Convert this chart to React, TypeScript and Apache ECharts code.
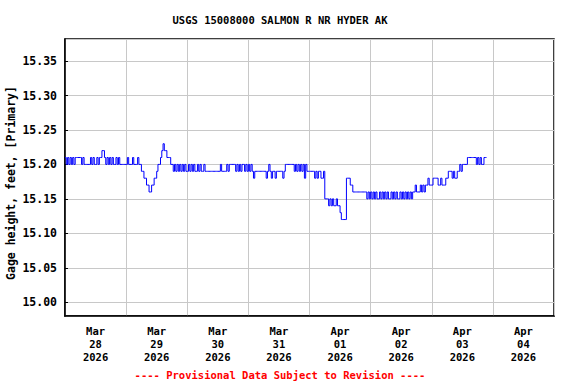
import React, { useEffect, useRef } from "react";
import * as echarts from "echarts";

const TITLE = "USGS 15008000 SALMON R NR HYDER AK";
const Y_NAME = "Gage height, feet, [Primary]";
const FOOTER = "---- Provisional Data Subject to Revision ----";

const dayLabels = [
  "Mar\n28\n2026",
  "Mar\n29\n2026",
  "Mar\n30\n2026",
  "Mar\n31\n2026",
  "Apr\n01\n2026",
  "Apr\n02\n2026",
  "Apr\n03\n2026",
  "Apr\n04\n2026",
];

const START = Date.UTC(2026, 2, 28);
const DAY_MS = 86400000;
const STEP_MS = 30 * 60000;

// Gage height (ft), 30-minute readings starting Mar 28 00:00
const mar28 = [
  15.21, 15.2, 15.21, 15.2, 15.21, 15.2, 15.21, 15.2, 15.21, 15.21, 15.21, 15.21,
  15.21, 15.2, 15.21, 15.2, 15.2, 15.2, 15.2, 15.2, 15.21, 15.2, 15.21, 15.2,
  15.2, 15.21, 15.2, 15.21, 15.21, 15.22, 15.22, 15.21, 15.2, 15.21, 15.2, 15.21,
  15.2, 15.21, 15.2, 15.2, 15.21, 15.2, 15.21, 15.2, 15.2, 15.2, 15.2, 15.2,
];
const mar29 = [
  15.2, 15.21, 15.2, 15.2, 15.2, 15.21, 15.2, 15.2, 15.2, 15.21, 15.2, 15.2,
  15.19, 15.19, 15.18, 15.18, 15.17, 15.17, 15.16, 15.16, 15.17, 15.17, 15.18, 15.18,
  15.19, 15.2, 15.2, 15.21, 15.22, 15.23, 15.22, 15.22, 15.21, 15.21, 15.21, 15.2,
  15.2, 15.19, 15.2, 15.19, 15.2, 15.19, 15.2, 15.19, 15.2, 15.19, 15.2, 15.19,
];
const mar30 = [
  15.19, 15.2, 15.19, 15.2, 15.19, 15.2, 15.19, 15.19, 15.2, 15.19, 15.2, 15.19,
  15.19, 15.2, 15.19, 15.19, 15.19, 15.19, 15.19, 15.19, 15.19, 15.19, 15.19, 15.19,
  15.19, 15.19, 15.2, 15.19, 15.19, 15.19, 15.19, 15.2, 15.19, 15.2, 15.2, 15.2,
  15.2, 15.2, 15.19, 15.2, 15.19, 15.2, 15.19, 15.2, 15.2, 15.19, 15.2, 15.19,
];
const mar31 = [
  15.2, 15.19, 15.2, 15.19, 15.18, 15.19, 15.19, 15.19, 15.19, 15.19, 15.19, 15.19,
  15.19, 15.19, 15.18, 15.19, 15.2, 15.19, 15.18, 15.19, 15.19, 15.18, 15.19, 15.19,
  15.19, 15.19, 15.19, 15.18, 15.19, 15.2, 15.2, 15.2, 15.2, 15.2, 15.2, 15.2,
  15.19, 15.2, 15.19, 15.2, 15.19, 15.2, 15.19, 15.2, 15.18, 15.2, 15.19, 15.19,
];
const apr01 = [
  15.19, 15.19, 15.19, 15.19, 15.18, 15.19, 15.18, 15.19, 15.19, 15.18, 15.18, 15.19,
  15.15, 15.15, 15.15, 15.14, 15.15, 15.14, 15.15, 15.14, 15.14, 15.15, 15.14, 15.14,
  15.13, 15.12, 15.12, 15.12, 15.12, 15.18, 15.18, 15.18, 15.17, 15.17, 15.16, 15.16,
  15.16, 15.16, 15.16, 15.16, 15.16, 15.16, 15.16, 15.16, 15.16, 15.15, 15.16, 15.15,
];
const apr02 = [
  15.16, 15.15, 15.16, 15.15, 15.16, 15.15, 15.15, 15.16, 15.15, 15.16, 15.15, 15.16,
  15.15, 15.16, 15.15, 15.15, 15.16, 15.15, 15.16, 15.15, 15.16, 15.15, 15.15, 15.16,
  15.15, 15.16, 15.15, 15.16, 15.15, 15.16, 15.15, 15.16, 15.15, 15.16, 15.16, 15.17,
  15.16, 15.16, 15.16, 15.17, 15.16, 15.17, 15.16, 15.17, 15.17, 15.18, 15.17, 15.17,
];
const apr03 = [
  15.17, 15.18, 15.18, 15.18, 15.18, 15.17, 15.17, 15.18, 15.17, 15.17, 15.17, 15.18,
  15.18, 15.19, 15.19, 15.19, 15.18, 15.19, 15.18, 15.18, 15.19, 15.19, 15.2, 15.19,
  15.2, 15.2, 15.2, 15.2, 15.21, 15.21, 15.21, 15.21, 15.21, 15.21, 15.21, 15.2,
  15.21, 15.2, 15.21, 15.2, 15.2, 15.21, 15.21, 15.21,
];

const FONT = "'DejaVu Sans Mono', 'Liberation Mono', monospace";

export default function App() {
  const ref = useRef<HTMLDivElement>(null);

  useEffect(() => {
    if (!ref.current) return;
    const chart = echarts.init(ref.current, undefined, { renderer: "svg" });
    const values = [...mar28, ...mar29, ...mar30, ...mar31, ...apr01, ...apr02, ...apr03];
    const data = values.map((v, i) => [START + i * STEP_MS, v]);

    chart.setOption({
      animation: false,
      backgroundColor: "#ffffff",
      grid: {
        left: 65,
        top: 39,
        width: 489,
        height: 277,
        show: true,
        borderColor: "#000000",
        borderWidth: 1.5,
        backgroundColor: "transparent",
      },
      xAxis: [
        {
          type: "value",
          min: START,
          max: START + 8 * DAY_MS,
          interval: DAY_MS,
          axisLine: { show: true, lineStyle: { color: "#000", width: 1.5 } },
          axisTick: { show: false },
          axisLabel: { show: false },
          splitLine: { show: true, lineStyle: { color: "#c8c8c8", width: 1 } },
        },
        {
          type: "category",
          position: "bottom",
          data: dayLabels,
          boundaryGap: true,
          axisLine: { show: false },
          axisTick: { show: false },
          splitLine: { show: false },
          axisLabel: {
            interval: 0,
            margin: 8,
            color: "#000",
            fontFamily: FONT,
            fontWeight: "bold",
            fontSize: 10.5,
            lineHeight: 13,
          },
        },
      ],
      yAxis: {
        type: "value",
        min: 14.98,
        max: 15.382,
        splitNumber: 8,
        axisLine: { show: true, lineStyle: { color: "#000", width: 1.5 } },
        axisTick: { show: true, inside: true, length: 3, lineStyle: { color: "#000" } },
        axisLabel: {
          showMinLabel: false,
          showMaxLabel: false,
          margin: 8,
          color: "#000",
          fontFamily: FONT,
          fontWeight: "bold",
          fontSize: 11.5,
          formatter: (v: number) => v.toFixed(2),
        },
        splitLine: { show: true, lineStyle: { color: "#c8c8c8", width: 1 } },
      },
      series: [
        {
          type: "line",
          xAxisIndex: 0,
          yAxisIndex: 0,
          data,
          step: "end",
          showSymbol: false,
          symbol: "none",
          lineStyle: { color: "#0000ff", width: 1 },
        },
      ],
      graphic: [
        {
          type: "text",
          x: 280,
          y: 20,
          style: {
            text: TITLE,
            fill: "#000",
            font: `bold 10.5px ${FONT}`,
            align: "center",
            verticalAlign: "middle",
          },
        },
        {
          type: "text",
          x: 11,
          y: 183,
          rotation: Math.PI / 2,
          style: {
            text: Y_NAME,
            fill: "#000",
            font: `bold 11.5px ${FONT}`,
            align: "center",
            verticalAlign: "middle",
          },
        },
        {
          type: "text",
          x: 280,
          y: 375,
          style: {
            text: FOOTER,
            fill: "#ff0000",
            font: `bold 10.5px ${FONT}`,
            align: "center",
            verticalAlign: "middle",
          },
        },
      ],
    });

    return () => {
      chart.dispose();
    };
  }, []);

  return (
    <div
      ref={ref}
      style={{ position: "fixed", left: 0, top: 0, width: 576, height: 384 }}
    />
  );
}
